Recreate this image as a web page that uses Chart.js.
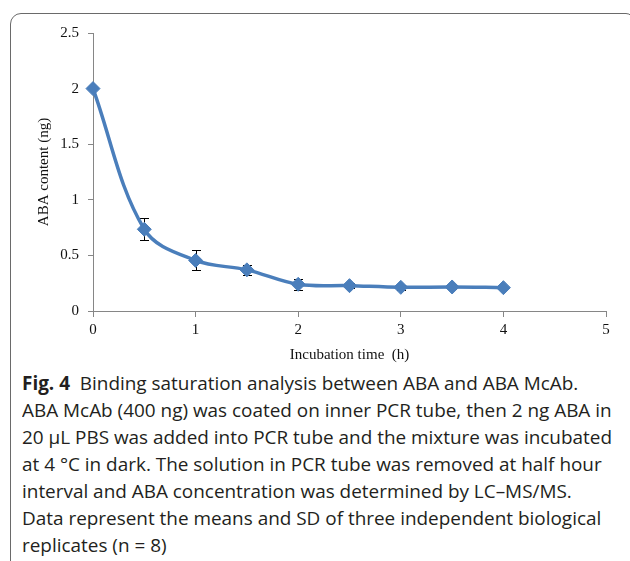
<!DOCTYPE html>
<html>
<head>
<meta charset="utf-8">
<script src="https://cdn.jsdelivr.net/npm/chart.js@4"></script>
<style>
  html, body { margin:0; padding:0; background:#fff; width:630px; height:561px; overflow:hidden; }
  #frame { position:absolute; left:10px; top:13px; width:624px; height:600px; border:1.5px solid #6a6a6a; border-radius:11px 8px 0 0; box-sizing:border-box; }
  #wrap { position:absolute; left:0; top:0; width:630px; height:370px; }
  #caption { position:absolute; left:22px; top:370px; font-family:"Open Sans", "Noto Sans", sans-serif; font-size:19px; line-height:27px; color:#231f20; white-space:nowrap; transform-origin:0 0; }
  #caption b { font-weight:700; }
</style>
</head>
<body>
<div id="frame"></div>
<div id="wrap"><canvas id="c" width="630" height="370"></canvas></div>
<div id="caption">
  <div><b>Fig. 4</b>&nbsp; Binding saturation analysis between ABA and ABA McAb.</div>
  <div id="ref">ABA McAb (400 ng) was coated on inner PCR tube, then 2 ng ABA in</div>
  <div>20 µL PBS was added into PCR tube and the mixture was incubated</div>
  <div>at 4 °C in dark. The solution in PCR tube was removed at half hour</div>
  <div>interval and ABA concentration was determined by LC–MS/MS.</div>
  <div>Data represent the means and SD of three independent biological</div>
  <div>replicates (n = 8)</div>
</div>
<script>
const times = [0, 0.5, 1, 1.5, 2, 2.5, 3, 3.5, 4];
const means = [2.0, 0.735, 0.455, 0.37, 0.24, 0.228, 0.213, 0.216, 0.21];
const sds   = [0, 0.10, 0.09, 0.045, 0.05, 0.02, 0.025, 0.02, 0.015];
const xTicks = [0, 1, 2, 3, 4, 5];
const yTicks = [0, 0.5, 1, 1.5, 2, 2.5];

// fit caption width
(function(){
  const cap = document.getElementById('caption');
  const ref = document.getElementById('ref');
  const w = ref.getBoundingClientRect().width;
  const f = 590 / w;
  cap.style.transform = 'scaleX(' + f + ')';
})();

const errorBars = {
  id: 'errorBars',
  beforeDatasetsDraw(chart) {
    const ctx = chart.ctx, xs = chart.scales.x, ys = chart.scales.y;
    ctx.save();
    ctx.strokeStyle = '#000';
    ctx.lineWidth = 1;
    times.forEach((t, i) => {
      if (!sds[i]) return;
      const x = Math.round(xs.getPixelForValue(t)) + 0.5;
      const yt = Math.round(ys.getPixelForValue(means[i] + sds[i])) + 0.5;
      const yb = Math.round(ys.getPixelForValue(means[i] - sds[i])) + 0.5;
      ctx.beginPath();
      ctx.moveTo(x, yt); ctx.lineTo(x, yb);
      ctx.moveTo(x - 4.5, yt); ctx.lineTo(x + 4.5, yt);
      ctx.moveTo(x - 4.5, yb); ctx.lineTo(x + 4.5, yb);
      ctx.stroke();
    });
    ctx.restore();
  }
};

const tickFont = { family: '"Liberation Serif", "Times New Roman", serif', size: 15 };

new Chart(document.getElementById('c'), {
  type: 'line',
  data: {
    datasets: [{
      data: times.map((t, i) => ({ x: t, y: means[i] })),
      borderColor: '#4a7ebb',
      backgroundColor: '#4a7ebb',
      borderWidth: 3.5,
      pointStyle: 'rectRot',
      pointRadius: 7,
      pointBorderWidth: 1,
      pointBorderColor: '#4a7ebb',
      tension: 0.36,
      clip: false,
      fill: false
    }]
  },
  options: {
    responsive: false,
    animation: false,
    devicePixelRatio: 1,
    layout: { padding: { left: 35, right: 24, top: 33, bottom: 0 } },
    plugins: { legend: { display: false }, tooltip: { enabled: false } },
    scales: {
      x: {
        type: 'linear', min: 0, max: 5,
        afterBuildTicks(s) { s.ticks = xTicks.map(v => ({ value: v })); },
        afterFit(s) { s.height = 59; },
        grid: { drawOnChartArea: false, drawTicks: true, tickLength: 6, color: '#868686', tickColor: '#868686' },
        border: { color: '#868686', width: 1 },
        ticks: { color: '#111', font: tickFont, padding: 4, maxRotation: 0, callback: v => String(v) },
        title: { display: true, text: 'Incubation time  (h)', color: '#111', font: tickFont, padding: { top: 0, bottom: 6 } }
      },
      y: {
        type: 'linear', min: 0, max: 2.5,
        afterBuildTicks(s) { s.ticks = yTicks.map(v => ({ value: v })); },
        afterFit(s) { s.width = 58; },
        grid: { drawOnChartArea: false, drawTicks: true, tickLength: 5, color: '#868686', tickColor: '#868686' },
        border: { color: '#868686', width: 1 },
        ticks: { color: '#111', font: tickFont, padding: 9, callback: v => String(v) },
        title: { display: true, text: 'ABA content (ng)', color: '#111', font: tickFont, padding: { top: 0, bottom: 0 } }
      }
    }
  },
  plugins: [errorBars]
});
</script>
</body>
</html>
